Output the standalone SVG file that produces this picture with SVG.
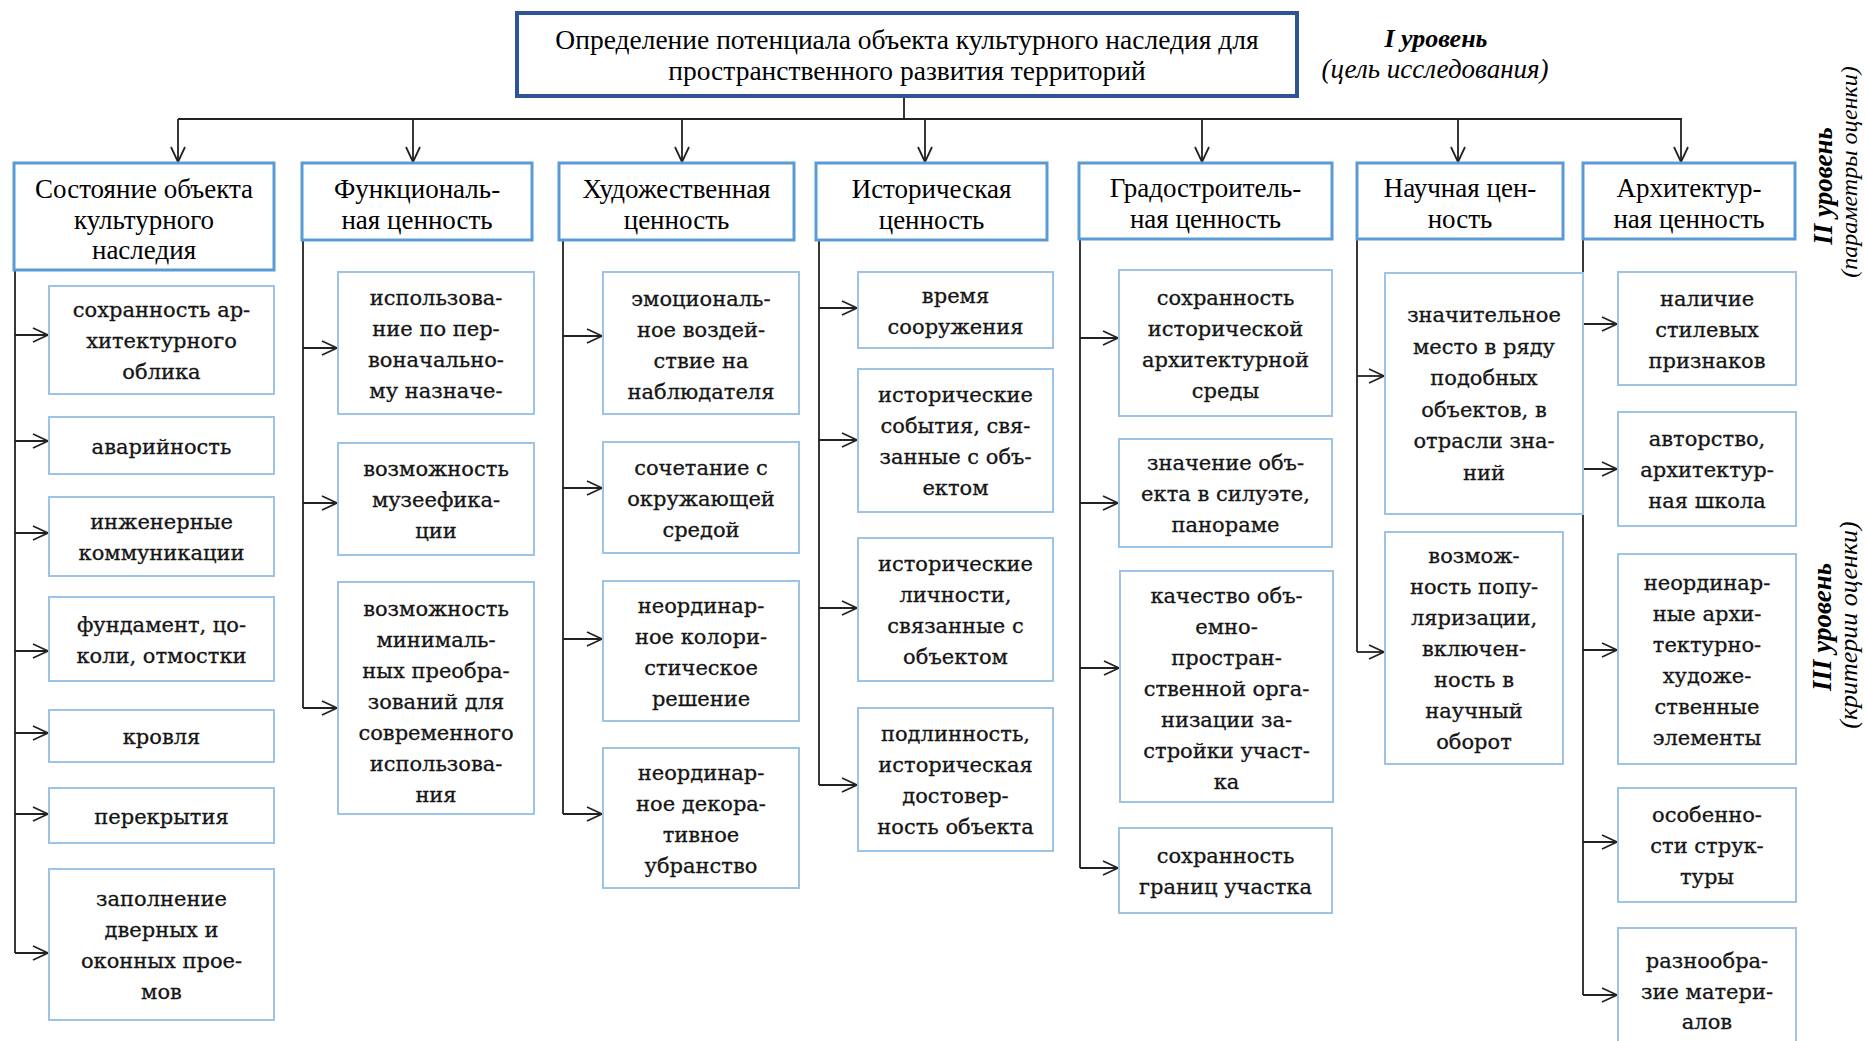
<svg xmlns="http://www.w3.org/2000/svg" width="1865" height="1041" viewBox="0 0 1865 1041">
<style>
.bg{fill:#ffffff}
.top{fill:#ffffff;stroke:#2F5496;stroke-width:4}
.l2{fill:#ffffff;stroke:#5B9BD5;stroke-width:3}
.l3{fill:#ffffff;stroke:#9DC3E6;stroke-width:2}
.tt{font-family:"Liberation Serif","Times New Roman",serif;font-size:27.5px;text-anchor:middle;fill:#000}
.t2{font-family:"Liberation Serif","Times New Roman",serif;font-size:27px;text-anchor:middle;fill:#000}
.t3{font-family:"DejaVu Serif",serif;font-size:21px;text-anchor:middle;fill:#151515;stroke:#151515;stroke-width:0.3}
.lvb{font-family:"Liberation Serif","Times New Roman",serif;font-size:26px;font-weight:bold;font-style:italic;text-anchor:middle;fill:#000}
.lvi{font-family:"Liberation Serif","Times New Roman",serif;font-size:27px;font-style:italic;text-anchor:middle;fill:#000}
.lvb2{font-family:"Liberation Serif","Times New Roman",serif;font-size:27px;font-weight:bold;font-style:italic;text-anchor:middle;fill:#000}
.lvi2{font-family:"Liberation Serif","Times New Roman",serif;font-size:24px;font-style:italic;text-anchor:middle;fill:#000}
.lvi3{font-family:"Liberation Serif","Times New Roman",serif;font-size:26px;font-style:italic;text-anchor:middle;fill:#000}
.c{fill:none;stroke:#222;stroke-width:1.8}
.a{fill:none;stroke:#222;stroke-width:1.8;marker-end:url(#arr)}
</style>
<defs>
<marker id="arr" markerUnits="userSpaceOnUse" markerWidth="18" markerHeight="18" viewBox="0 0 18 18" refX="16" refY="8" orient="auto">
<path d="M1,1 L16,8 L1,15" fill="none" stroke="#222" stroke-width="1.8"/>
</marker>
</defs>
<rect class="bg" x="0" y="0" width="1865" height="1041"/>

<g id="connectors">
<path class="c" d="M904,96 V119 M178,119 H1682"/>
<path class="a" d="M178,119 V162"/>
<path class="a" d="M413,119 V162"/>
<path class="a" d="M682,119 V162"/>
<path class="a" d="M925,119 V162"/>
<path class="a" d="M1202,119 V162"/>
<path class="a" d="M1458,119 V162"/>
<path class="a" d="M1681,119 V162"/>
<path class="c" d="M15,270 V953"/>
<path class="a" d="M15,335 H48"/>
<path class="a" d="M15,441 H48"/>
<path class="a" d="M15,533 H48"/>
<path class="a" d="M15,651 H48"/>
<path class="a" d="M15,733 H48"/>
<path class="a" d="M15,814 H48"/>
<path class="a" d="M15,953 H48"/>
<path class="c" d="M303,240 V708"/>
<path class="a" d="M303,348 H337"/>
<path class="a" d="M303,503 H337"/>
<path class="a" d="M303,708 H337"/>
<path class="c" d="M563,240 V814"/>
<path class="a" d="M563,336 H602"/>
<path class="a" d="M563,488 H602"/>
<path class="a" d="M563,639 H602"/>
<path class="a" d="M563,814 H602"/>
<path class="c" d="M819,240 V785"/>
<path class="a" d="M819,308 H857"/>
<path class="a" d="M819,440 H857"/>
<path class="a" d="M819,608 H857"/>
<path class="a" d="M819,785 H857"/>
<path class="c" d="M1080,239 V868"/>
<path class="a" d="M1080,338 H1118"/>
<path class="a" d="M1080,503 H1118"/>
<path class="a" d="M1080,668 H1119"/>
<path class="a" d="M1080,868 H1118"/>
<path class="c" d="M1357,239 V652"/>
<path class="a" d="M1357,376 H1384"/>
<path class="a" d="M1357,652 H1384"/>
<path class="c" d="M1583,239 V995"/>
<path class="a" d="M1583,324 H1617"/>
<path class="a" d="M1583,469 H1617"/>
<path class="a" d="M1583,650 H1617"/>
<path class="a" d="M1583,842 H1617"/>
<path class="a" d="M1583,995 H1617"/>
</g>

<g id="goal">
<rect class="top" x="517" y="13" width="780" height="83"/>
<text class="tt"><tspan x="907" y="49">Определение потенциала объекта культурного наследия для</tspan><tspan x="907" y="80">пространственного развития территорий</tspan></text>
</g>

<g id="level-labels">
<text class="lvb" x="1436" y="47">I уровень</text>
<text class="lvi" x="1435" y="78">(цель исследования)</text>
<text class="lvb2" transform="translate(1832,186) rotate(-90)">II уровень</text>
<text class="lvi2" transform="translate(1857,172) rotate(-90)">(параметры оценки)</text>
<text class="lvb2" transform="translate(1831,627) rotate(-90)">III уровень</text>
<text class="lvi3" transform="translate(1857,625) rotate(-90)">(критерии оценки)</text>
</g>

<g id="p1">
<rect class="l2" x="14" y="163" width="260" height="107"/>
<text class="t2"><tspan x="144" y="198">Состояние объекта</tspan><tspan x="144" y="228.5">культурного</tspan><tspan x="144" y="259">наследия</tspan></text>
</g>
<g id="p2">
<rect class="l2" x="302" y="163" width="230" height="77"/>
<text class="t2"><tspan x="417" y="198">Функциональ-</tspan><tspan x="417" y="228.5">ная ценность</tspan></text>
</g>
<g id="p3">
<rect class="l2" x="559" y="163" width="235" height="77"/>
<text class="t2"><tspan x="676.5" y="198">Художественная</tspan><tspan x="676.5" y="228.5">ценность</tspan></text>
</g>
<g id="p4">
<rect class="l2" x="816" y="163" width="231" height="77"/>
<text class="t2"><tspan x="931.5" y="198">Историческая</tspan><tspan x="931.5" y="228.5">ценность</tspan></text>
</g>
<g id="p5">
<rect class="l2" x="1079" y="163" width="253" height="76"/>
<text class="t2"><tspan x="1205.5" y="197">Градостроитель-</tspan><tspan x="1205.5" y="227.5">ная ценность</tspan></text>
</g>
<g id="p6">
<rect class="l2" x="1357" y="163" width="206" height="76"/>
<text class="t2"><tspan x="1460" y="197">Научная цен-</tspan><tspan x="1460" y="227.5">ность</tspan></text>
</g>
<g id="p7">
<rect class="l2" x="1583" y="163" width="212" height="76"/>
<text class="t2"><tspan x="1689" y="197">Архитектур-</tspan><tspan x="1689" y="227.5">ная ценность</tspan></text>
</g>

<g id="c1a"><rect class="l3" x="49" y="286" width="225" height="108"/>
<text class="t3"><tspan x="161.5" y="317">сохранность ар-</tspan><tspan x="161.5" y="348">хитектурного</tspan><tspan x="161.5" y="379">облика</tspan></text></g>
<g id="c1b"><rect class="l3" x="49" y="417" width="225" height="57"/>
<text class="t3"><tspan x="161.5" y="453.5">аварийность</tspan></text></g>
<g id="c1c"><rect class="l3" x="49" y="497" width="225" height="79"/>
<text class="t3"><tspan x="161.5" y="529">инженерные</tspan><tspan x="161.5" y="560">коммуникации</tspan></text></g>
<g id="c1d"><rect class="l3" x="49" y="597" width="225" height="84"/>
<text class="t3"><tspan x="161.5" y="631.5">фундамент, цо-</tspan><tspan x="161.5" y="662.5">коли, отмостки</tspan></text></g>
<g id="c1e"><rect class="l3" x="49" y="710" width="225" height="52"/>
<text class="t3"><tspan x="161.5" y="744">кровля</tspan></text></g>
<g id="c1f"><rect class="l3" x="49" y="788" width="225" height="55"/>
<text class="t3"><tspan x="161.5" y="823.5">перекрытия</tspan></text></g>
<g id="c1g"><rect class="l3" x="49" y="869" width="225" height="151"/>
<text class="t3"><tspan x="161.5" y="906">заполнение</tspan><tspan x="161.5" y="937">дверных и</tspan><tspan x="161.5" y="968">оконных прое-</tspan><tspan x="161.5" y="999">мов</tspan></text></g>

<g id="c2a"><rect class="l3" x="338" y="272" width="196" height="142"/>
<text class="t3"><tspan x="436" y="305">использова-</tspan><tspan x="436" y="336">ние по пер-</tspan><tspan x="436" y="367">воначально-</tspan><tspan x="436" y="398">му назначе-</tspan></text></g>
<g id="c2b"><rect class="l3" x="338" y="443" width="196" height="112"/>
<text class="t3"><tspan x="436" y="476">возможность</tspan><tspan x="436" y="507">музеефика-</tspan><tspan x="436" y="538">ции</tspan></text></g>
<g id="c2c"><rect class="l3" x="338" y="582" width="196" height="232"/>
<text class="t3"><tspan x="436" y="616">возможность</tspan><tspan x="436" y="647">минималь-</tspan><tspan x="436" y="678">ных преобра-</tspan><tspan x="436" y="709">зований для</tspan><tspan x="436" y="740">современного</tspan><tspan x="436" y="771">использова-</tspan><tspan x="436" y="802">ния</tspan></text></g>

<g id="c3a"><rect class="l3" x="603" y="272" width="196" height="142"/>
<text class="t3"><tspan x="701" y="306">эмоциональ-</tspan><tspan x="701" y="337">ное воздей-</tspan><tspan x="701" y="368">ствие на</tspan><tspan x="701" y="399">наблюдателя</tspan></text></g>
<g id="c3b"><rect class="l3" x="603" y="442" width="196" height="111"/>
<text class="t3"><tspan x="701" y="474.5">сочетание с</tspan><tspan x="701" y="505.5">окружающей</tspan><tspan x="701" y="536.5">средой</tspan></text></g>
<g id="c3c"><rect class="l3" x="603" y="581" width="196" height="140"/>
<text class="t3"><tspan x="701" y="612.5">неординар-</tspan><tspan x="701" y="643.5">ное колори-</tspan><tspan x="701" y="674.5">стическое</tspan><tspan x="701" y="705.5">решение</tspan></text></g>
<g id="c3d"><rect class="l3" x="603" y="748" width="196" height="140"/>
<text class="t3"><tspan x="701" y="779.5">неординар-</tspan><tspan x="701" y="810.5">ное декора-</tspan><tspan x="701" y="841.5">тивное</tspan><tspan x="701" y="872.5">убранство</tspan></text></g>

<g id="c4a"><rect class="l3" x="858" y="272" width="195" height="76"/>
<text class="t3"><tspan x="955.5" y="302.5">время</tspan><tspan x="955.5" y="333.5">сооружения</tspan></text></g>
<g id="c4b"><rect class="l3" x="858" y="369" width="195" height="143"/>
<text class="t3"><tspan x="955.5" y="402">исторические</tspan><tspan x="955.5" y="433">события, свя-</tspan><tspan x="955.5" y="464">занные с объ-</tspan><tspan x="955.5" y="495">ектом</tspan></text></g>
<g id="c4c"><rect class="l3" x="858" y="538" width="195" height="143"/>
<text class="t3"><tspan x="955.5" y="571">исторические</tspan><tspan x="955.5" y="602">личности,</tspan><tspan x="955.5" y="633">связанные с</tspan><tspan x="955.5" y="664">объектом</tspan></text></g>
<g id="c4d"><rect class="l3" x="858" y="708" width="195" height="143"/>
<text class="t3"><tspan x="955.5" y="741">подлинность,</tspan><tspan x="955.5" y="772">историческая</tspan><tspan x="955.5" y="803">достовер-</tspan><tspan x="955.5" y="834">ность объекта</tspan></text></g>

<g id="c5a"><rect class="l3" x="1119" y="270" width="213" height="146"/>
<text class="t3"><tspan x="1225.5" y="304.5">сохранность</tspan><tspan x="1225.5" y="335.5">исторической</tspan><tspan x="1225.5" y="366.5">архитектурной</tspan><tspan x="1225.5" y="397.5">среды</tspan></text></g>
<g id="c5b"><rect class="l3" x="1119" y="439" width="213" height="108"/>
<text class="t3"><tspan x="1225.5" y="470">значение объ-</tspan><tspan x="1225.5" y="501">екта в силуэте,</tspan><tspan x="1225.5" y="532">панораме</tspan></text></g>
<g id="c5c"><rect class="l3" x="1120" y="571" width="213" height="231"/>
<text class="t3"><tspan x="1226.5" y="603">качество объ-</tspan><tspan x="1226.5" y="634">емно-</tspan><tspan x="1226.5" y="665">простран-</tspan><tspan x="1226.5" y="696">ственной орга-</tspan><tspan x="1226.5" y="727">низации за-</tspan><tspan x="1226.5" y="758">стройки участ-</tspan><tspan x="1226.5" y="789">ка</tspan></text></g>
<g id="c5d"><rect class="l3" x="1119" y="828" width="213" height="85"/>
<text class="t3"><tspan x="1225.5" y="863">сохранность</tspan><tspan x="1225.5" y="894">границ участка</tspan></text></g>

<g id="c6a"><rect class="l3" x="1385" y="273" width="198" height="241"/>
<text class="t3"><tspan x="1484" y="322">значительное</tspan><tspan x="1484" y="353.5">место в ряду</tspan><tspan x="1484" y="385">подобных</tspan><tspan x="1484" y="416.5">объектов, в</tspan><tspan x="1484" y="448">отрасли зна-</tspan><tspan x="1484" y="479.5">ний</tspan></text></g>
<g id="c6b"><rect class="l3" x="1385" y="532" width="178" height="232"/>
<text class="t3"><tspan x="1474" y="563">возмож-</tspan><tspan x="1474" y="594">ность попу-</tspan><tspan x="1474" y="625">ляризации,</tspan><tspan x="1474" y="656">включен-</tspan><tspan x="1474" y="687">ность в</tspan><tspan x="1474" y="718">научный</tspan><tspan x="1474" y="749">оборот</tspan></text></g>

<g id="c7a"><rect class="l3" x="1618" y="272" width="178" height="113"/>
<text class="t3"><tspan x="1707" y="305.5">наличие</tspan><tspan x="1707" y="336.5">стилевых</tspan><tspan x="1707" y="367.5">признаков</tspan></text></g>
<g id="c7b"><rect class="l3" x="1618" y="412" width="178" height="114"/>
<text class="t3"><tspan x="1707" y="446">авторство,</tspan><tspan x="1707" y="477">архитектур-</tspan><tspan x="1707" y="508">ная школа</tspan></text></g>
<g id="c7c"><rect class="l3" x="1618" y="554" width="178" height="210"/>
<text class="t3"><tspan x="1707" y="589.5">неординар-</tspan><tspan x="1707" y="620.5">ные архи-</tspan><tspan x="1707" y="651.5">тектурно-</tspan><tspan x="1707" y="682.5">художе-</tspan><tspan x="1707" y="713.5">ственные</tspan><tspan x="1707" y="744.5">элементы</tspan></text></g>
<g id="c7d"><rect class="l3" x="1618" y="788" width="178" height="114"/>
<text class="t3"><tspan x="1707" y="822">особенно-</tspan><tspan x="1707" y="853">сти струк-</tspan><tspan x="1707" y="884">туры</tspan></text></g>
<g id="c7e"><rect class="l3" x="1618" y="928" width="178" height="130"/>
<text class="t3"><tspan x="1707" y="968">разнообра-</tspan><tspan x="1707" y="998.5">зие матери-</tspan><tspan x="1707" y="1029">алов</tspan></text></g>
</svg>
